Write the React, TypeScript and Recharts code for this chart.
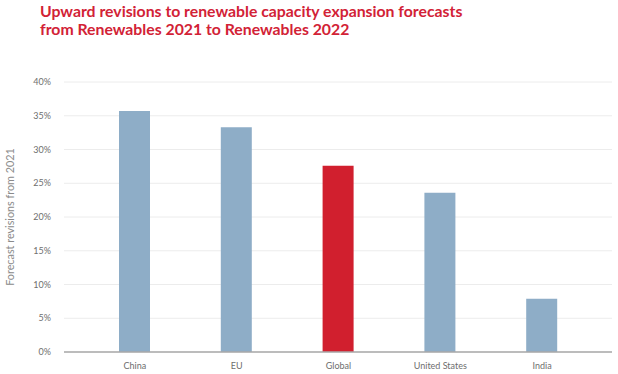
import React from "react";
import { BarChart, Bar, XAxis, YAxis, CartesianGrid, Cell, Label } from "recharts";

const categories = ["China", "EU", "Global", "United States", "India"];
const revisions = [35.7, 33.3, 27.6, 23.6, 7.9];
const highlight = ["Global"];
const yTicks = [0, 5, 10, 15, 20, 25, 30, 35, 40];

const titleLines = [
  "Upward revisions to renewable capacity expansion forecasts",
  "from Renewables 2021 to Renewables 2022",
];
const yAxisTitle = "Forecast revisions from 2021";

const data = categories.map((c, i) => ({ name: c, value: revisions[i] }));

const FONT = "Lato, 'Open Sans', sans-serif";

const YTitle = (props: any) => {
  const vb = props.viewBox || { x: 0, y: 0, width: 0, height: 0 };
  const cx = 9;
  const cy = vb.y + vb.height / 2;
  return (
    <text
      x={cx}
      y={cy}
      transform={`rotate(-90, ${cx}, ${cy})`}
      textAnchor="middle"
      dominantBaseline="central"
      fontSize={10.8}
      fill="#8a8a8a"
      fontFamily={FONT}
    >
      {yAxisTitle}
    </text>
  );
};

export default function App() {
  return (
    <div
      style={{
        position: "absolute",
        left: 0,
        top: 0,
        width: 618,
        height: 374,
        background: "#fff",
        fontFamily: FONT,
      }}
    >
      <div
        style={{
          position: "absolute",
          left: 40,
          top: 2,
          color: "#d22236",
          fontWeight: 700,
          fontSize: 15.8,
          lineHeight: "17.5px",
          fontFamily: FONT,
          whiteSpace: "nowrap",
        }}
      >
        {titleLines.map((t) => (
          <div key={t}>{t}</div>
        ))}
      </div>
      <div style={{ position: "absolute", left: 0, top: 0 }}>
        <BarChart
          width={618}
          height={374}
          data={data}
          margin={{ top: 82, right: 6, left: 0, bottom: 0 }}
        >
          <CartesianGrid vertical={false} stroke="#ececec" strokeWidth={1} />
          <XAxis
            dataKey="name"
            height={22}
            padding={{ left: 20, right: 19 }}
            tickLine={false}
            tickSize={0}
            tickMargin={11}
            axisLine={{ stroke: "#a8a8a8", strokeWidth: 1.5 }}
            tick={{ fontSize: 9, fill: "#6e6e6e", fontFamily: FONT }}
            interval={0}
          />
          <YAxis
            width={64}
            domain={[0, 40]}
            ticks={yTicks}
            tickFormatter={(v: number) => `${v}%`}
            axisLine={false}
            tickLine={false}
            tickSize={0}
            tickMargin={13}
            tick={{ fontSize: 9, fill: "#6e6e6e", fontFamily: FONT }}
          >
            <Label content={YTitle} />
          </YAxis>
          <Bar dataKey="value" barSize={31} isAnimationActive={false}>
            {data.map((d) => (
              <Cell
                key={d.name}
                fill={highlight.includes(d.name) ? "#d11f2e" : "#8eadc7"}
              />
            ))}
          </Bar>
        </BarChart>
      </div>
    </div>
  );
}
